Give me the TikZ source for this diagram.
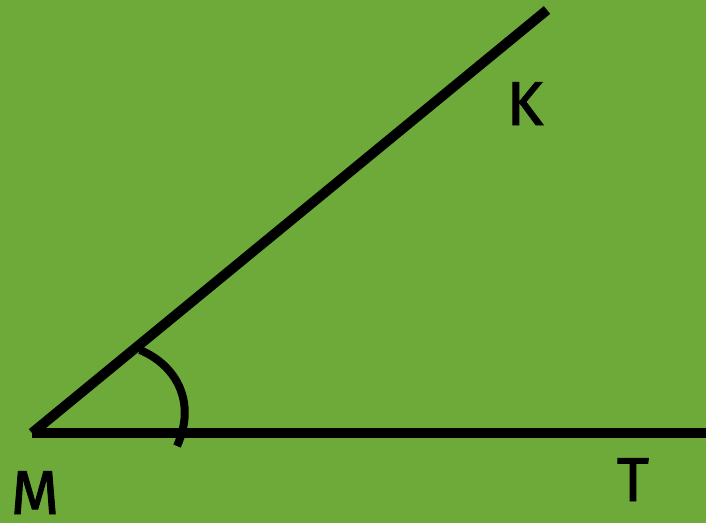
\documentclass[tikz,border=0pt]{standalone}
\usepackage{fontspec}
\setmainfont{Fira Sans}
\newfontfamily\lblfont{Fira Sans}[FakeBold=1.5]
\definecolor{bg}{RGB}{110,170,58}
\begin{document}
\begin{tikzpicture}[x=1pt,y=-1pt,
  ray/.style={line width=10pt},
  arcmark/.style={line width=8pt},
  lbl/.style={font=\fontsize{62}{62}\lblfont, text=black, inner sep=0pt, text depth=0pt, anchor=base}]
\fill[bg] (0,0) rectangle (706,523);
\useasboundingbox (0,0) rectangle (706,523);
\coordinate (M) at (32,433);
\coordinate (Kend) at (547,10);
\coordinate (Tend) at (706,433);
\coordinate (a1) at (140,350);
\coordinate (a2) at (177,446);
\draw[ray] (M) -- (Kend);
\draw[ray] (M) -- (Tend);
\draw[arcmark] (a1) .. controls (176,365) and (197,402) .. (a2);
\node[lbl] (K) at (525,125) {K};
\node[lbl] (Mlbl) at (35,514) {M};
\node[lbl] (T) at (633,501) {T};
\end{tikzpicture}
\end{document}
